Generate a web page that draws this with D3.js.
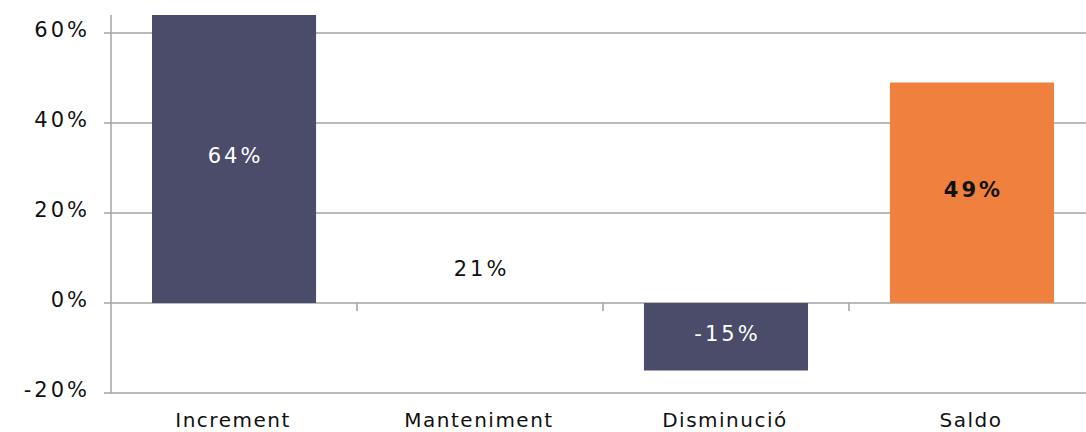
<!DOCTYPE html>
<html>
<head>
<meta charset="utf-8">
<script src="https://cdn.jsdelivr.net/npm/d3@7"></script>
<style>
  body { margin: 0; background: #fff; }
  text { font-family: "DejaVu Sans", "Noto Sans", sans-serif; }
</style>
</head>
<body>
<svg id="chart" width="1086" height="432"></svg>
<script>
// data
var categories = ["Increment", "Manteniment", "Disminució", "Saldo"];
var values = [64, 21, -15, 49];
var fills = ["#4a4c69", "none", "#4a4c69", "#f0803d"];
var labelColors = ["#fff", "#111", "#fff", "#111"];
var labelWeights = ["normal", "normal", "normal", "bold"];
var yTicks = [-20, 0, 20, 40, 60];

var svg = d3.select("#chart");
var plotLeft = 111, plotRight = 1095, plotTop = 15, plotBottom = 393;

var x = d3.scaleBand().domain(categories).range([plotLeft, plotRight]).paddingInner(0.333).paddingOuter(0.1667);
var y = d3.scaleLinear().domain([-20, 64]).range([plotBottom, plotTop]);

// gridlines
svg.append("g").selectAll("line")
	.data(yTicks)
	.enter().append("line")
		.attr("x1", plotLeft - 7).attr("x2", plotRight)
		.attr("y1", function(d) { return y(d); })
		.attr("y2", function(d) { return y(d); })
		.attr("stroke", "#a3a3a3")
		.attr("stroke-width", 1.5);

// y axis line
svg.append("line")
	.attr("x1", plotLeft).attr("x2", plotLeft)
	.attr("y1", plotTop).attr("y2", plotBottom)
	.attr("stroke", "#a3a3a3").attr("stroke-width", 1.5);

// y tick labels
svg.append("g").selectAll("text")
	.data(yTicks)
	.enter().append("text")
		.attr("x", 90)
		.attr("y", function(d) { return y(d); })
		.attr("dy", "0.21em")
		.attr("text-anchor", "end")
		.attr("font-size", 21)
		.attr("letter-spacing", 3)
		.attr("fill", "#111")
		.text(function(d) { return d + "%"; });

// bars
svg.append("g").selectAll("rect")
	.data(values)
	.enter().append("rect")
		.attr("x", function(d, i) { return x(categories[i]); })
		.attr("width", x.bandwidth())
		.attr("y", function(d) { return y(Math.max(0, d)); })
		.attr("height", function(d) { return Math.abs(y(d) - y(0)); })
		.attr("fill", function(d, i) { return fills[i]; });

// category ticks on the zero line, between bands
var step = x.step();
svg.append("g").selectAll("line")
	.data(categories.slice(1))
	.enter().append("line")
		.attr("x1", function(d) { return x(d) - step * x.paddingInner() / 2; })
		.attr("x2", function(d) { return x(d) - step * x.paddingInner() / 2; })
		.attr("y1", y(0)).attr("y2", y(0) + 8)
		.attr("stroke", "#a3a3a3").attr("stroke-width", 1.5);

// value labels
svg.append("g").selectAll("text")
	.data(values)
	.enter().append("text")
		.attr("x", function(d, i) { return x(categories[i]) + x.bandwidth() / 2 + 1.5; })
		.attr("y", function(d, i) {
			// the unfilled bar carries its label lower down
			return fills[i] === "none" ? y(d / 3) : (y(d) + y(0)) / 2;
		})
		.attr("dy", "0.21em")
		.attr("text-anchor", "middle")
		.attr("font-size", 21)
		.attr("letter-spacing", 3)
		.attr("font-weight", function(d, i) { return labelWeights[i]; })
		.attr("fill", function(d, i) { return labelColors[i]; })
		.text(function(d) { return d + "%"; });

// category labels
svg.append("g").selectAll("text")
	.data(categories)
	.enter().append("text")
		.attr("x", function(d) { return x(d) + x.bandwidth() / 2 - 1; })
		.attr("y", 427)
		.attr("text-anchor", "middle")
		.attr("font-size", 20)
		.attr("letter-spacing", 1.5)
		.attr("fill", "#111")
		.text(function(d) { return d; });
</script>
</body>
</html>
